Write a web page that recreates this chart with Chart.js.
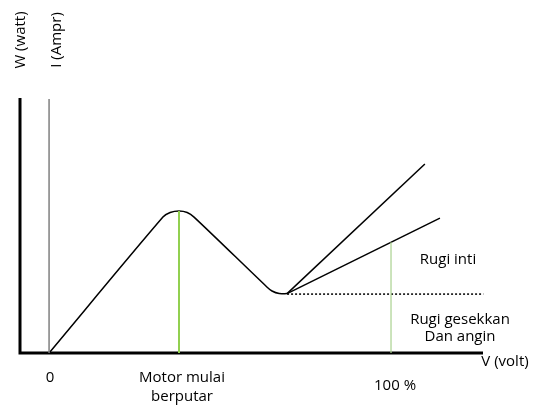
<!DOCTYPE html>
<html>
<head>
<meta charset="utf-8">
<script src="https://cdn.jsdelivr.net/npm/chart.js@4/dist/chart.umd.min.js"></script>
<style>
  html, body { margin: 0; padding: 0; background: #fff; }
  #wrap { width: 537px; height: 405px; }
</style>
</head>
<body>
<div id="wrap"><canvas id="lossChart"></canvas></div>
<script>
// V in % of rated voltage, W in arbitrary units
const curveV = [0, 33.3, 35.4, 38.0, 40.4, 42.4, 63.7, 65.2, 67.3, 69.6];
const curveW = [0, 53.3, 55.1, 55.7, 55.1, 53.3, 25.9, 24.3, 23.3, 23.3];
const coreV = [69.6, 109.9];
const coreW = [23.3, 74.1];
const lowerV = [69.6, 114.3];
const lowerW = [23.3, 52.9];
const frictionV = [69.6, 127];
const frictionW = [23.1, 23.1];
const currentAxisV = [0, 0];
const currentAxisW = [0, 99.6];
const startV = [38.0, 38.0];
const startW = [0, 55.7];
const ratedV = [100, 100];
const ratedW = [0, 43.4];

const tickValues = [0, 38, 100];
const tickLabels = [["0"], ["Motor mulai", "berputar"], ["100 %"]];
const yTitles = ["W (watt)", "I (Ampr)"];
const xTitle = "V (volt)";
const noteCore = ["Rugi inti"];
const noteFriction = ["Rugi gesekkan", "Dan angin"];

function pts(xs, ys) {
    return xs.map((x, i) => ({ x: x, y: ys[i] }));
}

function line(xs, ys, color, width, extra) {
    return Object.assign({
        data: pts(xs, ys),
        borderColor: color,
        borderWidth: width,
        pointRadius: 0,
        fill: false,
        tension: 0,
        clip: false
    }, extra || {});
}

const FONT = "15px 'Open Sans'";

// axes, tick labels and notes
const decor = {
    id: "decor",
    beforeDatasetsDraw(chart) {
        const ctx = chart.ctx;
        const a = chart.chartArea;
        ctx.save();
        ctx.strokeStyle = "#000";
        ctx.lineWidth = 3;
        ctx.beginPath();
        ctx.moveTo(a.left, a.top);
        ctx.lineTo(a.left, a.bottom);
        ctx.lineTo(a.right, a.bottom);
        ctx.stroke();
        ctx.restore();
    },
    afterDraw(chart) {
        const ctx = chart.ctx;
        const xs = chart.scales.x;
        const ys = chart.scales.y;
        const a = chart.chartArea;
        ctx.save();
        ctx.fillStyle = "#000";
        ctx.font = FONT;
        ctx.textAlign = "center";
        ctx.textBaseline = "middle";

        // y titles, rotated
        const titleX = [a.left + 1, xs.getPixelForValue(0) + 8];
        yTitles.forEach((t, i) => {
            ctx.save();
            ctx.translate(titleX[i], 40);
            ctx.rotate(-Math.PI / 2);
            ctx.fillText(t, 0, 0);
            ctx.restore();
        });

        // x tick labels
        const tickY = [378, 378, 386];
        const tickDx = [1, 3, 4];
        tickValues.forEach((v, i) => {
            const px = xs.getPixelForValue(v) + tickDx[i];
            tickLabels[i].forEach((t, j) => ctx.fillText(t, px, tickY[i] + j * 19));
        });

        ctx.fillText(xTitle, a.right + 22, 362);

        noteCore.forEach((t, j) => ctx.fillText(t, 448, ys.getPixelForValue(36.5) + j * 17));
        noteFriction.forEach((t, j) => ctx.fillText(t, 460, ys.getPixelForValue(13) + j * 17));
        ctx.restore();
    }
};

new Chart(document.getElementById("lossChart"), {
    type: "scatter",
    data: {
        datasets: [
            line(currentAxisV, currentAxisW, "#7f7f7f", 1.5),
            line(startV, startW, "#92d050", 2),
            line(ratedV, ratedW, "#a9d18e", 1.2),
            line(frictionV, frictionW, "#000", 1.5, { borderDash: [2, 2] }),
            line(curveV, curveW, "#000", 1.5, { tension: 0.3 }),
            line(coreV, coreW, "#000", 1.5),
            line(lowerV, lowerW, "#000", 1.5)
        ].map(d => Object.assign(d, { showLine: true }))
    },
    options: {
        responsive: true,
        maintainAspectRatio: false,
        animation: false,
        layout: { padding: { left: 20, right: 54, top: 98, bottom: 52 } },
        plugins: { legend: { display: false }, tooltip: { enabled: false } },
        scales: {
            x: { type: "linear", display: false, min: -8.5, max: 126.9 },
            y: { type: "linear", display: false, min: 0, max: 100 }
        }
    },
    plugins: [decor]
});
</script>
</body>
</html>
